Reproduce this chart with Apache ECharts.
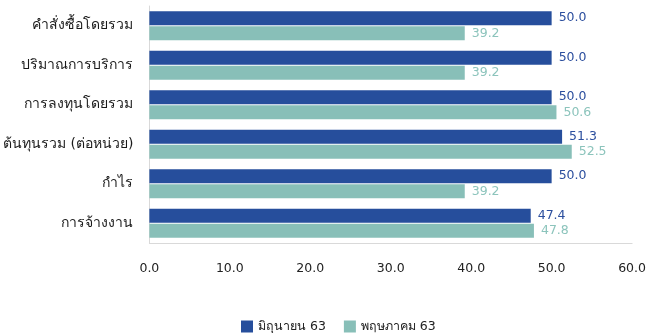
<!DOCTYPE html>
<html><head><meta charset="utf-8">
<script src="https://cdn.jsdelivr.net/npm/echarts@6/dist/echarts.min.js"></script>
<style>html,body{margin:0;padding:0;background:#fff}#c{width:649px;height:333px}</style>
</head><body><div id="c"></div>
<script>
const categories = ['คำสั่งซื้อโดยรวม','ปริมาณการบริการ','การลงทุนโดยรวม','ต้นทุนรวม (ต่อหน่วย)','กำไร','การจ้างงาน'];
const seriesNames = ['มิถุนายน 63','พฤษภาคม 63'];
const june = [50.0, 50.0, 50.0, 51.3, 50.0, 47.4];
const may = [39.2, 39.2, 50.6, 52.5, 39.2, 47.8];
const xTicks = [0, 10, 20, 30, 40, 50, 60];

const FONT = 'Tahoma, "DejaVu Sans", "Noto Sans", sans-serif';
const chart = echarts.init(document.getElementById('c'));
chart.setOption({
  animation: false,
  textStyle: {fontFamily: FONT},
  grid: {left: 149, right: 12, top: 6, bottom: 90, containLabel: false},
  legend: {
    top: 315, left: 236, itemWidth: 12, itemHeight: 12, itemGap: 18,
    icon: 'rect',
    textStyle: {fontSize: 12.5, color: '#222', fontFamily: FONT},
    data: seriesNames
  },
  xAxis: {
    type: 'value', min: xTicks[0], max: xTicks[xTicks.length-1], interval: 10,
    axisLine: {show: true, lineStyle: {color: '#d9d9d9'}},
    axisTick: {show: false},
    splitLine: {show: false},
    axisLabel: {margin: 19, fontSize: 12.5, color: '#222', formatter: v => v.toFixed(1)}
  },
  yAxis: {
    type: 'category', data: categories, inverse: true,
    axisLine: {show: true, lineStyle: {color: '#d9d9d9'}},
    axisTick: {show: false},
    axisLabel: {margin: 16, fontSize: 14, color: '#1a1a1a'}
  },
  series: [
    {name: seriesNames[0], type: 'bar', data: june, barWidth: 14, barGap: '8%',
     itemStyle: {color: '#264e9c'},
     label: {show: true, position: 'right', distance: 7, fontSize: 12.5, color: '#2c4f9e', formatter: p => p.value.toFixed(1)}},
    {name: seriesNames[1], type: 'bar', data: may, barWidth: 14,
     itemStyle: {color: '#88bfb8'},
     label: {show: true, position: 'right', distance: 7, fontSize: 12.5, color: '#8cc4bc', formatter: p => p.value.toFixed(1)}}
  ]
});
</script></body></html>
